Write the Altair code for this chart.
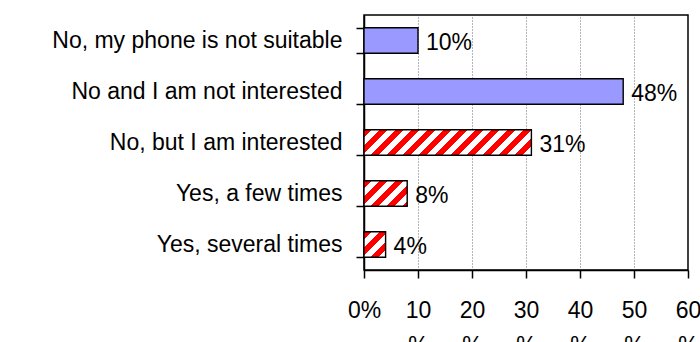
import altair as alt
import pandas as pd

# Survey answers, top to bottom, and the share of respondents for each
answers = [
    "No, my phone is not suitable",
    "No and I am not interested",
    "No, but I am interested",
    "Yes, a few times",
    "Yes, several times",
]
shares = [10, 48, 31, 8, 4]
x_ticks = [0, 10, 20, 30, 40, 50, 60]

df = pd.DataFrame({"answer": answers, "share": shares})
df["label"] = df["share"].astype(str) + "%"

# Answers drawn with a red hatch instead of the plain lavender fill
hatched = ["No, but I am interested", "Yes, a few times", "Yes, several times"]

PLOT_W, PLOT_H = 324, 255
X_MAX = 60
FONT = "Liberation Sans"
FS = 23
BAR_STROKE = dict(stroke="black", strokeWidth=1.4)


def hatch(share, period=16.0, red=0.5):
    """Linear gradient with hard stops that reads as 45-degree '/' stripes."""
    step = PLOT_H / (len(answers))
    w = share * PLOT_W / X_MAX
    h = step * 0.5
    span = w + h
    k = span / (w * w + h * h)
    stops = []
    pos = 0.0
    while pos < span:
        a = pos / span
        b = min((pos + period * red) / span, 1.0)
        c = min((pos + period) / span, 1.0)
        stops += [
            {"offset": a, "color": "#ff0000"},
            {"offset": b, "color": "#ff0000"},
            {"offset": b, "color": "#ffffff"},
            {"offset": c, "color": "#ffffff"},
        ]
        pos += period
    return {"gradient": "linear", "x1": 0, "y1": 0, "x2": w * k, "y2": h * k,
            "stops": stops}


x_enc = alt.X(
    "share:Q",
    scale=alt.Scale(domain=[0, X_MAX], nice=False),
    axis=alt.Axis(
        values=x_ticks,
        title=None,
        labelExpr="datum.value == 0 ? '0%' : [datum.value + '', '%']",
        labelFont=FONT,
        labelFontSize=FS,
        labelColor="black",
        labelLineHeight=35,
        labelPadding=21,
        labelOverlap=False,
        labelFlush=False,
        domainColor="black",
        domainWidth=1.5,
        tickColor="black",
        tickWidth=1.5,
        tickSize=8,
        grid=True,
        gridColor="#444444",
        gridDash=[1, 2],
        gridWidth=0.8,
    ),
)
y_enc = alt.Y(
    "answer:N",
    sort=answers,
    scale=alt.Scale(paddingInner=0.5, paddingOuter=0.25),
    axis=alt.Axis(
        title=None,
        tickBand="extent",
        labelFont=FONT,
        labelFontSize=FS,
        labelColor="black",
        labelPadding=14,
        labelLimit=400,
        domainColor="black",
        domainWidth=1.5,
        tickColor="black",
        tickWidth=1.5,
        tickSize=8,
        grid=False,
    ),
)

base = alt.Chart(df).encode(x=x_enc, y=y_enc)

layers = [
    base.transform_filter(
        alt.FieldOneOfPredicate(field="answer", oneOf=[a for a in answers if a not in hatched])
    ).mark_bar(fill="#9999ff", **BAR_STROKE)
]
for a in hatched:
    s = shares[answers.index(a)]
    layers.append(
        base.transform_filter(alt.datum.answer == a).mark_bar(fill=hatch(s), **BAR_STROKE)
    )

labels = base.mark_text(
    align="left", baseline="middle", dx=8, dy=2, font=FONT, fontSize=FS, color="black"
).encode(text="label:N")
layers.append(labels)

chart = (
    alt.layer(*layers)
    .properties(
        width=PLOT_W,
        height=PLOT_H,
        padding={"left": 364, "top": 15, "right": 12, "bottom": 72},
        autosize=alt.AutoSizeParams(type="none"),
        background="white",
    )
    .configure_view(stroke="black", strokeWidth=1.5)
)

chart.save("out.html", embed_options={"renderer": "svg", "actions": False})
